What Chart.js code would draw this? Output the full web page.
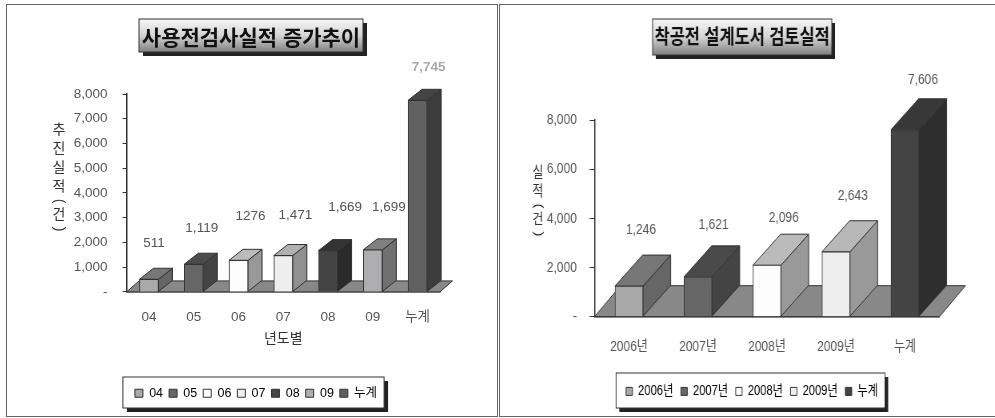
<!DOCTYPE html>
<html>
<head>
<meta charset="utf-8">
<script src="https://cdn.jsdelivr.net/npm/chart.js@4/dist/chart.umd.min.js"></script>
<style>
    html, body { margin: 0; background: #fff; width: 995px; height: 418px; overflow: hidden; }
    canvas { position: absolute; top: 0; filter: blur(0.45px); }
    #grafico_uso { left: 6px; }
    #grafico_obra { left: 499px; transform: scaleX(0.8); transform-origin: 0 0; }
    .painel { position: absolute; border: 1px solid #666; box-sizing: border-box; }
    #painelUso { left: 6px; top: 4px; width: 492px; height: 413px; }
    #painelObra { left: 499px; top: 4px; width: 500px; height: 413px; }
</style>
</head>
<body>
<div class="painel" id="painelUso"></div>
<div class="painel" id="painelObra"></div>
<canvas id="grafico_uso" width="494" height="418"></canvas>
<canvas id="grafico_obra" width="627" height="418"></canvas>
<script>
var fonte = '"Liberation Sans", "Noto Sans CJK KR", sans-serif';

var tituloUso = '사용전검사실적 증가추이';
var anosUso = ['04', '05', '06', '07', '08', '09', '누계'];
var valoresUso = [511, 1119, 1276, 1471, 1669, 1699, 7745];
var rotulosUso = ['511', '1,119', '1276', '1,471', '1,669', '1,699', '7,745'];
var frenteUso = ['#aaaaaa', '#666666', '#fdfdfd', '#eeeeee', '#444444', '#aeaeb0', '#606060'];
var topoUso = ['#777777', '#4c4c4c', '#bbbbbb', '#b0b0b0', '#333333', '#808080', '#444444'];
var ladoUso = ['#666666', '#444444', '#999999', '#909090', '#2a2a2a', '#707070', '#3c3c3c'];
var eixoYUso = ['추', '진', '실', '적', '(', '건', ')'];

var tituloObra = '착공전 설계도서 검토실적';
var anosObra = ['2006년', '2007년', '2008년', '2009년', '누계'];
var valoresObra = [1246, 1621, 2096, 2643, 7606];
var rotulosObra = ['1,246', '1,621', '2,096', '2,643', '7,606'];
var frenteObra = ['#a8a8a8', '#666666', '#fdfdfd', '#eeeeee', '#444444'];
var topoObra = ['#777777', '#4a4a4a', '#bbbbbb', '#b8b8b8', '#383838'];
var ladoObra = ['#666666', '#444444', '#999999', '#999999', '#2e2e2e'];
var eixoYObra = ['실', '적', '(', '건', ')'];

function caixaSombra(ctx, x, y, w, h, sombra, fundo) {
    ctx.fillStyle = '#222';
    ctx.fillRect(x + sombra, y + sombra, w, h);
    ctx.fillStyle = fundo;
    ctx.fillRect(x, y, w, h);
    ctx.strokeStyle = '#333';
    ctx.lineWidth = 1;
    ctx.strokeRect(x, y, w, h);
}

function poligono(ctx, pontos, cor) {
    ctx.beginPath();
    ctx.moveTo(pontos[0][0], pontos[0][1]);
    for (var i = 1; i < pontos.length; i++) {
        ctx.lineTo(pontos[i][0], pontos[i][1]);
    }
    ctx.closePath();
    ctx.fillStyle = cor;
    ctx.fill();
    ctx.strokeStyle = '#333';
    ctx.lineWidth = 1;
    ctx.stroke();
}

function ehParentese(letra) {
    return letra == '(' || letra == ')';
}

var barras3d = {
    id: 'barras3d',
    afterLayout: function (chart, args, op) {
        // titulo e legenda nao ficam centrados na area do grafico
        chart.titleBlock.left += op.tituloDx;
        chart.titleBlock.right += op.tituloDx;
        chart.legend.left += op.legendaDx;
        chart.legend.right += op.legendaDx;
    },
    beforeDraw: function (chart, args, op) {
        var ctx = chart.ctx;
        var t = chart.titleBlock;
        var centro = (t.left + t.right) / 2;
        ctx.save();
        var grad = ctx.createLinearGradient(0, op.tituloTopo, 0, op.tituloTopo + op.tituloAltura);
        grad.addColorStop(0, '#f6f6f6');
        grad.addColorStop(0.5, '#d4d4d4');
        grad.addColorStop(1, '#808080');
        caixaSombra(ctx, centro - op.tituloLargura / 2, op.tituloTopo, op.tituloLargura, op.tituloAltura, op.sombra, grad);

        var itens = chart.legend.legendHitBoxes;
        var esq = itens[0].left - op.legendaPad;
        var dir = itens[itens.length - 1].left + itens[itens.length - 1].width + op.legendaPadDir;
        caixaSombra(ctx, esq, op.legendaTopo, dir - esq, op.legendaAltura, op.sombra, '#fff');
        ctx.restore();
    },
    beforeDatasetsDraw: function (chart, args, op) {
        var ctx = chart.ctx;
        var a = chart.chartArea;
        var barras = chart.getDatasetMeta(0).data;
        ctx.save();
        poligono(ctx, [[a.left, a.bottom], [a.right, a.bottom], [a.right + op.pisoDx, a.bottom - op.dy], [a.left + op.pisoDx, a.bottom - op.dy]], '#888888');
        for (var i = 0; i < barras.length; i++) {
            var b = barras[i];
            var esq = b.x - b.width / 2;
            var dir = b.x + b.width / 2;
            poligono(ctx, [[dir, b.y], [dir + op.dx, b.y - op.dy], [dir + op.dx, b.base - op.dy], [dir, b.base]], op.lados[i]);
            poligono(ctx, [[esq, b.y], [esq + op.dx, b.y - op.dy], [dir + op.dx, b.y - op.dy], [dir, b.y]], op.topos[i]);
        }
        ctx.restore();
    },
    afterDatasetsDraw: function (chart, args, op) {
        var ctx = chart.ctx;
        var barras = chart.getDatasetMeta(0).data;
        ctx.save();
        ctx.textAlign = 'center';
        ctx.textBaseline = 'middle';
        for (var i = 0; i < barras.length; i++) {
            ctx.font = (op.negrito[i] ? 'bold ' : '') + op.fonteRotulo + 'px ' + fonte;
            ctx.fillStyle = op.negrito[i] ? '#aaaaaa' : '#555555';
            ctx.fillText(op.rotulos[i], barras[i].x + op.rotuloDx[i], barras[i].y - op.rotuloDy[i]);
        }
        // titulo do eixo y em pe, letra por letra, parenteses deitados
        ctx.font = op.fonteEixo + 'px ' + fonte;
        ctx.fillStyle = '#333';
        var y = op.eixoTopo;
        for (var k = 0; k < op.eixoY.length; k++) {
            var letra = op.eixoY[k];
            if (ehParentese(letra)) {
                ctx.save();
                ctx.translate(op.eixoX, y);
                ctx.rotate(Math.PI / 2);
                ctx.fillText(letra, 0, 0);
                ctx.restore();
            } else {
                ctx.fillText(letra, op.eixoX, y);
            }
            y += (ehParentese(letra) || ehParentese(op.eixoY[k + 1] || '')) ? 14 : 19;
        }
        ctx.restore();
    }
};

function formatarTick(valor) {
    return valor == 0 ? '-' : valor.toLocaleString('en-US');
}

function montarGrafico(id, cfg) {
    return new Chart(document.getElementById(id).getContext('2d'), {
        type: 'bar',
        plugins: [barras3d],
        data: {
            labels: cfg.anos,
            datasets: [{
                data: cfg.valores,
                backgroundColor: cfg.frente,
                borderColor: '#333333',
                borderWidth: 1,
                barThickness: cfg.larguraBarra
            }]
        },
        options: {
            responsive: false,
            animation: false,
            events: [],
            layout: { padding: { left: 0, top: 0, right: cfg.padDir, bottom: cfg.padBaixo } },
            plugins: {
                tooltip: { enabled: false },
                title: {
                    display: true,
                    text: cfg.titulo,
                    color: '#111',
                    font: { family: fonte, size: cfg.fonteTitulo, weight: 'bold' },
                    padding: { top: cfg.tituloPadTopo, bottom: cfg.tituloPadBaixo }
                },
                legend: {
                    position: 'bottom',
                    labels: {
                        boxWidth: cfg.caixaLegenda,
                        boxHeight: cfg.caixaLegenda,
                        padding: cfg.padLegenda,
                        color: '#555',
                        font: { family: fonte, size: cfg.fonteLegenda },
                        generateLabels: function () {
                            return cfg.anos.map(function (ano, i) {
                                return { text: ano, fillStyle: cfg.frente[i], strokeStyle: '#333', lineWidth: 1, hidden: false, index: i };
                            });
                        }
                    }
                },
                barras3d: cfg.extra
            },
            scales: {
                x: {
                    afterFit: function (s) { s.height = cfg.alturaX; },
                    grid: { display: false },
                    border: { color: '#333', width: 1.5 },
                    title: cfg.tituloX,
                    ticks: { color: '#555', padding: cfg.padTickX, font: { family: fonte, size: cfg.fonteTick }, maxRotation: 0 }
                },
                y: {
                    min: 0,
                    max: 8000,
                    afterFit: function (s) { s.width = cfg.larguraY; },
                    grid: { drawOnChartArea: false, tickLength: cfg.tickTam, tickColor: '#333' },
                    border: { color: '#333', width: 1.5 },
                    ticks: { stepSize: cfg.passo, color: '#555', padding: cfg.padTickY, font: { family: fonte, size: cfg.fonteTick }, callback: formatarTick }
                }
            }
        }
    });
}

montarGrafico('grafico_uso', {
    anos: anosUso, valores: valoresUso, frente: frenteUso, titulo: tituloUso,
    larguraBarra: 19, padDir: 60, padBaixo: 8.5, fonteTitulo: 21, tituloPadTopo: 26.5, tituloPadBaixo: 42.3,
    caixaLegenda: 8, padLegenda: 6, fonteLegenda: 12.5, alturaX: 89.1, larguraY: 120.6,
    padTickX: 9, padTickY: 15, fonteTick: 13.5, tickTam: 4, passo: 1000,
    tituloX: { display: true, text: '년도별', color: '#333', font: { family: fonte, size: 14 }, padding: { top: 4, bottom: 33 } },
    extra: {
        dx: 14, dy: 11, pisoDx: 12.5, lados: ladoUso, topos: topoUso, rotulos: rotulosUso,
        rotuloDx: [5, 8, 12, 12, 17, 16, 11], rotuloDy: [36, 36, 44, 40, 43, 43, 33],
        negrito: [false, false, false, false, false, false, true], fonteRotulo: 13.5,
        eixoY: eixoYUso, eixoX: 53, eixoTopo: 130, fonteEixo: 14,
        tituloDx: 28, tituloTopo: 19, tituloAltura: 33, tituloLargura: 224, sombra: 4,
        legendaDx: 33, legendaPad: 12, legendaPadDir: 7, legendaTopo: 377, legendaAltura: 31
    }
});

montarGrafico('grafico_obra', {
    anos: anosObra, valores: valoresObra, frente: frenteObra, titulo: tituloObra,
    larguraBarra: 35, padDir: 76.4, padBaixo: 9.6, fonteTitulo: 20.5, tituloPadTopo: 26, tituloPadBaixo: 69.5,
    caixaLegenda: 8, padLegenda: 9.5, fonteLegenda: 14, alturaX: 58.2, larguraY: 119.4,
    padTickX: 13, padTickY: 16, fonteTick: 15, tickTam: 6, passo: 2000,
    tituloX: { display: false },
    extra: {
        dx: 34.6, dy: 31, pisoDx: 32.5, lados: ladoObra, topos: topoObra, rotulos: rotulosObra,
        rotuloDx: [15, 19.5, 21, 21, 22.5], rotuloDy: [56, 52, 47, 56, 50],
        negrito: [false, false, false, false, false], fonteRotulo: 15,
        eixoY: eixoYObra, eixoX: 48.7, eixoTopo: 173, fonteEixo: 15,
        tituloDx: 28.7, tituloTopo: 19, tituloAltura: 36, tituloLargura: 224, sombra: 4,
        legendaDx: 41, legendaPad: 12.5, legendaPadDir: 8.75, legendaTopo: 373, legendaAltura: 35
    }
});
</script>
</body>
</html>
